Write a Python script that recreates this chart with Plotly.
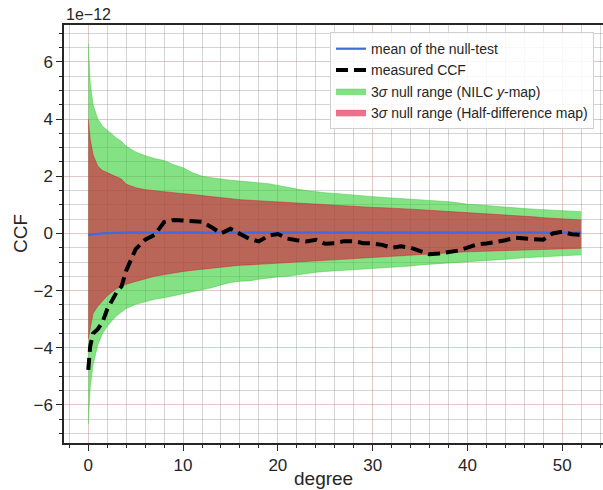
import plotly.graph_objects as go

# values in units of 1e-12
degree = [0, 0.2, 0.5, 1, 1.5, 2, 2.5, 3, 3.5, 4] + list(range(5, 53))

green_upper = [6.65, 5.3, 4.5, 4.0, 3.75, 3.6, 3.45, 3.33, 3.22, 3.05,
               2.85, 2.72, 2.62, 2.55, 2.4, 2.3, 2.12, 2.0, 1.95, 1.9,
               1.86, 1.83, 1.8, 1.78, 1.74, 1.68, 1.61, 1.55, 1.5, 1.45,
               1.42, 1.4, 1.37, 1.34, 1.3, 1.28, 1.26, 1.24, 1.22, 1.2,
               1.17, 1.15, 1.13, 1.11, 1.07, 1.02, 1.0, 0.97, 0.95, 0.92,
               0.89, 0.87, 0.85, 0.83, 0.81, 0.79, 0.77, 0.76]
green_lower = [-6.67, -5.4, -4.6, -3.9, -3.5, -3.25, -3.05, -2.88, -2.75, -2.63,
               -2.48, -2.38, -2.3, -2.25, -2.18, -2.1, -2.05, -1.98, -1.9, -1.8,
               -1.72, -1.67, -1.66, -1.6, -1.55, -1.52, -1.5, -1.45, -1.4, -1.36,
               -1.33, -1.31, -1.29, -1.26, -1.24, -1.22, -1.2, -1.19, -1.17, -1.14,
               -1.1, -1.08, -1.06, -1.04, -1.02, -0.99, -0.97, -0.95, -0.92, -0.9,
               -0.88, -0.85, -0.83, -0.81, -0.79, -0.77, -0.76, -0.75]
red_upper = [4.0, 3.3, 2.75, 2.35, 2.2, 2.12, 2.05, 1.97, 1.9, 1.72,
             1.6, 1.53, 1.49, 1.46, 1.42, 1.39, 1.36, 1.32, 1.28, 1.24,
             1.2, 1.18, 1.16, 1.14, 1.12, 1.11, 1.07, 1.05, 1.03, 1.01,
             0.99, 0.97, 0.95, 0.93, 0.92, 0.91, 0.9, 0.89, 0.87, 0.85,
             0.83, 0.81, 0.79, 0.78, 0.76, 0.72, 0.71, 0.7, 0.68, 0.66,
             0.62, 0.6, 0.58, 0.55, 0.53, 0.51, 0.49, 0.47]
red_lower = [-3.7, -3.3, -2.8, -2.55, -2.35, -2.18, -2.05, -1.93, -1.85, -1.78,
             -1.68, -1.58, -1.5, -1.44, -1.38, -1.33, -1.29, -1.25, -1.21, -1.17,
             -1.13, -1.11, -1.1, -1.08, -1.06, -1.04, -1.0, -0.98, -0.96, -0.94,
             -0.92, -0.9, -0.88, -0.86, -0.84, -0.82, -0.8, -0.79, -0.78, -0.75,
             -0.72, -0.7, -0.69, -0.68, -0.66, -0.64, -0.63, -0.62, -0.6, -0.59,
             -0.58, -0.57, -0.56, -0.55, -0.54, -0.53, -0.52, -0.52]
null_mean = [-0.05, -0.04, -0.03, -0.02, 0.0, 0.01, 0.02, 0.03, 0.03, 0.03] + [0.03] * 48
measured = [-4.77, -3.96, -3.5, -3.35, -3.1, -2.65, -2.35, -2.05, -1.86, -1.3,
            -0.55, -0.22, -0.05, 0.4, 0.47, 0.45, 0.42, 0.41, 0.22, 0.0,
            0.16, 0.0, -0.19, -0.28, -0.08, -0.02, -0.18, -0.24, -0.28, -0.22,
            -0.36, -0.34, -0.27, -0.27, -0.34, -0.35, -0.4, -0.5, -0.45, -0.5,
            -0.6, -0.73, -0.7, -0.66, -0.6, -0.5, -0.38, -0.35, -0.3, -0.24,
            -0.15, -0.16, -0.2, -0.22, 0.0, 0.06, -0.03, -0.05]

x_ticks = [0, 10, 20, 30, 40, 50]
y_ticks = [-6, -4, -2, 0, 2, 4, 6]

GREEN = "rgba(50,205,50,0.6)"
RED = "rgba(220,20,60,0.6)"
FONT = "Liberation Sans, Arial, sans-serif"

fig = go.Figure()
fig.add_trace(go.Scatter(x=degree, y=green_lower, mode="lines",
                         line=dict(width=0.8, color=GREEN), showlegend=False, hoverinfo="skip"))
fig.add_trace(go.Scatter(x=degree, y=green_upper, mode="lines", fill="tonexty",
                         fillcolor=GREEN, line=dict(width=0.8, color=GREEN),
                         name="3<i>σ</i> null range (NILC <i>y</i>-map)", legendrank=3))
fig.add_trace(go.Scatter(x=degree, y=red_lower, mode="lines",
                         line=dict(width=0.8, color=RED), showlegend=False, hoverinfo="skip"))
fig.add_trace(go.Scatter(x=degree, y=red_upper, mode="lines", fill="tonexty",
                         fillcolor=RED, line=dict(width=0.8, color=RED),
                         name="3<i>σ</i> null range (Half-difference map)", legendrank=4))
fig.add_trace(go.Scatter(x=degree, y=null_mean, mode="lines",
                         line=dict(width=2.2, color="#4169e1"),
                         name="mean of the null-test", legendrank=1))
fig.add_trace(go.Scatter(x=degree, y=measured, mode="lines",
                         line=dict(width=4, color="black", dash="12px,6px"),
                         name="measured CCF", legendrank=2))

axis_common = dict(
    showline=True, linecolor="#262626", linewidth=1.5, automargin=False,
    ticks="outside", ticklen=6, tickwidth=1.2, tickcolor="#262626",
    tickfont=dict(family=FONT, size=17, color="#262626"),
    showgrid=True, gridcolor="rgba(255,170,170,0.3)", gridwidth=1,
    zeroline=False,
)

fig.update_xaxes(range=[-2.56, 54.3], tickvals=x_ticks, mirror=True,
                 minor=dict(dtick=2, tick0=0, ticks="outside", ticklen=3.5, tickwidth=1,
                            tickcolor="#262626", showgrid=True,
                            gridcolor="rgba(120,120,120,0.32)", gridwidth=1),
                 **axis_common)
fig.update_yaxes(range=[-7.33, 7.29], tickvals=y_ticks,
                 minor=dict(dtick=0.5, tick0=0, ticks="outside", ticklen=3.5, tickwidth=1,
                            tickcolor="#262626", showgrid=True,
                            gridcolor="rgba(120,120,120,0.32)", gridwidth=1),
                 **axis_common)

fig.update_layout(
    width=603, height=490,
    margin=dict(l=64, r=0, t=25, b=47),
    plot_bgcolor="white", paper_bgcolor="white",
    font=dict(family=FONT, color="#262626"),
    legend=dict(x=0.4935, y=0.983, xanchor="left", yanchor="top", traceorder="normal",
                bgcolor="rgba(255,255,255,0.85)", bordercolor="#d0d0d0", borderwidth=1,
                font=dict(family=FONT, size=14, color="#262626"),
                itemwidth=30, tracegroupgap=0),
    annotations=[
        dict(text="1e−12", xref="paper", yref="paper", x=0.0, y=1.0, xanchor="left",
             yanchor="bottom", yshift=0, showarrow=False,
             font=dict(family=FONT, size=16, color="#262626")),
        dict(text="degree", xref="paper", yref="paper", x=(323 - 64) / 539, y=0,
             xanchor="center", yanchor="middle", yshift=-35, showarrow=False,
             font=dict(family=FONT, size=19, color="#262626")),
        dict(text="CCF", xref="paper", yref="paper", x=0, y=0.5, textangle=-90,
             xanchor="center", yanchor="middle", xshift=-44, showarrow=False,
             font=dict(family=FONT, size=19, color="#262626")),
    ],
)

fig.write_html(
    "out.html",
    config={"displayModeBar": False},
    post_script="document.body.style.margin='0';document.body.style.padding='0';"
                "document.body.style.overflow='hidden';",
)
